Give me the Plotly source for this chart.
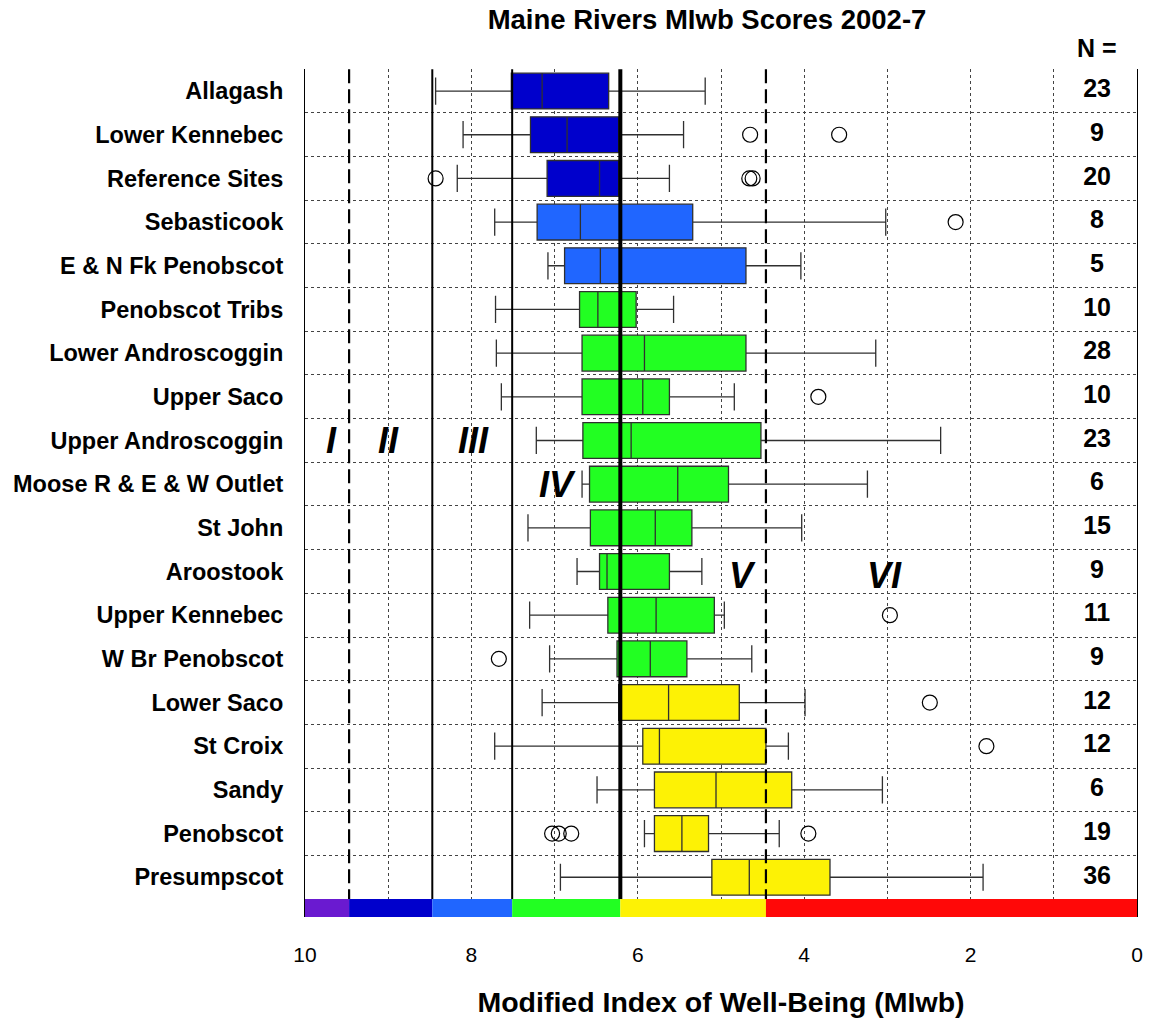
"""Maine Rivers MIwb box plots, 2002-7."""

import plotly.graph_objects as go

FONT = "Arial, 'Liberation Sans', sans-serif"

rivers = [
    "Allagash", "Lower Kennebec", "Reference Sites", "Sebasticook",
    "E & N Fk Penobscot", "Penobscot Tribs", "Lower Androscoggin", "Upper Saco",
    "Upper Androscoggin", "Moose R & E & W Outlet", "St John", "Aroostook",
    "Upper Kennebec", "W Br Penobscot", "Lower Saco", "St Croix", "Sandy",
    "Penobscot", "Presumpscot",
]
n_counts = [23, 9, 20, 8, 5, 10, 28, 10, 23, 6, 15, 9, 11, 9, 12, 12, 6, 19, 36]

whisker_hi = [8.43, 8.10, 8.17, 7.72, 7.08, 7.71, 7.70, 7.64, 7.22, 6.67,
              7.32, 6.73, 7.30, 7.06, 7.15, 7.72, 6.49, 5.92, 6.93]
box_hi = [7.52, 7.29, 7.09, 7.21, 6.88, 6.70, 6.67, 6.67, 6.66, 6.58,
          6.57, 6.46, 6.36, 6.25, 6.23, 5.94, 5.80, 5.80, 5.11]
medians = [7.15, 6.85, 6.46, 6.69, 6.45, 6.48, 5.92, 5.94, 6.08, 5.52,
           5.79, 6.37, 5.78, 5.85, 5.63, 5.74, 5.06, 5.47, 4.66]
box_lo = [6.35, 6.23, 6.23, 5.34, 4.70, 6.02, 4.70, 5.62, 4.52, 4.91,
          5.35, 5.62, 5.08, 5.41, 4.78, 4.46, 4.15, 5.15, 3.69]
whisker_lo = [5.19, 5.45, 5.62, 3.02, 4.04, 5.57, 3.14, 4.84, 2.36, 3.24,
              4.03, 5.23, 4.96, 4.63, 3.99, 4.19, 3.06, 4.30, 1.85]
# class of each river's median (drives the box colour)
river_class = ["II", "II", "II", "III", "III", "IV", "IV", "IV", "IV", "IV",
               "IV", "IV", "IV", "IV", "V", "V", "V", "V", "V"]

outlier_rows = [1, 1, 2, 2, 2, 3, 7, 12, 13, 14, 15, 17, 17, 17, 17]
outlier_vals = [4.65, 3.58, 8.43, 4.66, 4.62, 2.18, 3.83, 2.97, 7.67, 2.49,
                1.81, 7.03, 6.95, 6.80, 3.95]

# MIwb class boundaries, high to low, and the class colours
class_names = ["I", "II", "III", "IV", "V", "VI"]
class_edges = [10, 9.47, 8.47, 7.51, 6.21, 4.46, 0]
class_colors = ["#6a1ad0", "#0000cc", "#2066ff", "#22ff22", "#fdf205", "#ff0808"]
label_x = [9.68, 9.0, 7.97, 6.96, 4.74, 3.03]
label_row = [8, 8, 8, 9, 11.08, 11.08]

color_of = dict(zip(class_names, class_colors))
rows = list(range(len(rivers)))

fig = go.Figure()

for i in rows:
    fig.add_trace(go.Box(
        y=[i], orientation="h",
        q1=[box_lo[i]], median=[medians[i]], q3=[box_hi[i]],
        lowerfence=[whisker_lo[i]], upperfence=[whisker_hi[i]],
        fillcolor=color_of[river_class[i]],
        line=dict(color="#303030", width=1.3),
        width=0.82, whiskerwidth=0.76,
        showlegend=False, hoverinfo="skip",
    ))

fig.add_trace(go.Scatter(
    x=outlier_vals, y=outlier_rows, mode="markers",
    marker=dict(symbol="circle-open", size=15, color="black", line=dict(width=1.2)),
    showlegend=False, hoverinfo="skip",
))

# class colour strip under the plot
bar_row = len(rivers) - 0.5 + 0.205
fig.add_trace(go.Bar(
    x=[class_edges[k] - class_edges[k + 1] for k in range(6)],
    base=class_edges[1:],
    y=[bar_row] * 6, orientation="h", width=0.41,
    marker=dict(color=class_colors, line=dict(width=0)),
    showlegend=False, hoverinfo="skip",
))

fig.add_trace(go.Scatter(
    x=[0.48] * len(rows), y=rows, mode="text", text=[str(n) for n in n_counts],
    textfont=dict(family=FONT, size=25, color="black"),
    texttemplate="<b>%{text}</b>", cliponaxis=False,
    showlegend=False, hoverinfo="skip",
))

# class boundary lines
line_styles = [
    dict(width=2.2, dash="14px,6px"),
    dict(width=2, dash="solid"),
    dict(width=2, dash="solid"),
    dict(width=4, dash="solid"),
    dict(width=2.2, dash="14px,6px"),
]
for edge, style in zip(class_edges[1:-1], line_styles):
    fig.add_shape(
        type="line", x0=edge, x1=edge, y0=-0.5, y1=len(rivers) - 0.5,
        xref="x", yref="y", line=dict(color="black", **style), layer="above",
    )

for name, lx, ly in zip(class_names, label_x, label_row):
    fig.add_annotation(
        x=lx, y=ly, text=f"<b><i>{name}</i></b>", showarrow=False,
        font=dict(family=FONT, size=36, color="black"),
    )

fig.add_annotation(
    x=0.48, y=1.025, xref="x", yref="paper", text="<b>N =</b>", showarrow=False,
    font=dict(family=FONT, size=25, color="black"), yanchor="middle",
)

grid = dict(showgrid=True, gridcolor="#444444", griddash="3px,3px", gridwidth=1)

fig.update_layout(
    width=1151, height=1026,
    margin=dict(l=305, r=14, t=69, b=109),
    paper_bgcolor="white", plot_bgcolor="white",
    boxmode="overlay", barmode="overlay",
    font=dict(family=FONT, color="black"),
    title=dict(
        text="<b>Maine Rivers MIwb Scores 2002-7</b>",
        x=707 / 1151, xanchor="center", y=1 - 19 / 1026, yanchor="middle",
        font=dict(family=FONT, size=27.5, color="black"),
    ),
    xaxis=dict(
        range=[10, 0], tickvals=[10, 8, 6, 4, 2, 0], ticks="",
        tickfont=dict(family=FONT, size=21), ticklabelstandoff=23,
        **grid,
        minor=dict(dtick=1, ticks="", **grid),
        zeroline=False, showline=False, automargin=False,
        title=dict(text="<b>Modified Index of Well-Being (MIwb)</b>",
                   font=dict(family=FONT, size=28.5), standoff=27),
    ),
    yaxis=dict(
        range=[len(rivers) - 0.5 + 0.41, -0.505],
        tickvals=rows, ticktext=[f"<b>{r}</b>" for r in rivers], ticks="",
        tickfont=dict(family=FONT, size=23.5), ticklabelstandoff=16,
        showgrid=False, zeroline=False, automargin=False,
        showline=True, mirror=True, linecolor="black", linewidth=1,
        minor=dict(tickvals=[i - 0.5 for i in rows], ticks="", **grid),
    ),
)

# drop the default page margin so the figure fills the window exactly
fig.write_html(
    "out.html",
    config={"displayModeBar": False},
    post_script="document.body.style.margin='0';document.body.style.overflow='hidden';",
)
